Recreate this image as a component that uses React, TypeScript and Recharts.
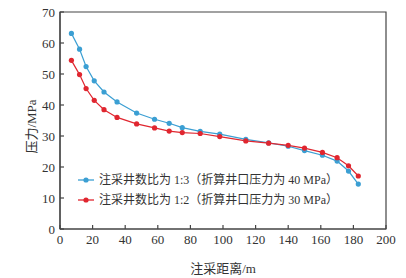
import React from 'react';
import { LineChart, Line, XAxis, YAxis, ReferenceArea } from 'recharts';

const distance = [7, 12, 16, 21, 27, 35, 47, 58, 67, 75, 86, 98, 114, 128, 140, 150, 161, 170, 177, 183];
const ratio13 = [63.1, 58.0, 52.4, 47.8, 44.2, 41.0, 37.4, 35.4, 34.1, 32.7, 31.5, 30.6, 28.9, 27.8, 26.7, 25.3, 23.8, 21.9, 18.7, 14.5];
const ratio12 = [54.4, 49.8, 45.3, 41.5, 38.5, 36.0, 33.9, 32.6, 31.6, 31.1, 30.8, 29.8, 28.4, 27.7, 27.0, 26.1, 24.7, 23.0, 20.4, 17.1];
const seriesNames = ['注采井数比为 1:3（折算井口压力为 40 MPa）', '注采井数比为 1:2（折算井口压力为 30 MPa）'];
const xTicks = [0, 20, 40, 60, 80, 100, 120, 140, 160, 180, 200];
const yTicks = [0, 10, 20, 30, 40, 50, 60, 70];
const xTitle = '注采距离/m';
const yTitle = '压力/MPa';

const BLUE = '#3b9fd3';
const RED = '#e0262f';
const AXIS = '#444';
const FONT = "'Liberation Serif', 'Noto Sans CJK SC', serif";

const data = distance.map((d, i) => ({ d, a: ratio13[i], b: ratio12[i] }));

const LegendBox = () => (
  <div style={{ position: 'absolute', left: 78, top: 170, fontFamily: FONT, fontSize: 12, color: '#333', lineHeight: '20px' }}>
    {[BLUE, RED].map((c, i) => (
      <div key={i} style={{ display: 'flex', alignItems: 'center', whiteSpace: 'nowrap' }}>
        <svg width={18} height={8} style={{ marginRight: 3 }}>
          <line x1={0} y1={4} x2={16} y2={4} stroke={c} strokeWidth={1.3} />
          <circle cx={8} cy={4} r={2.6} fill={c} />
        </svg>
        <span>{seriesNames[i]}</span>
      </div>
    ))}
  </div>
);

const YTitle = (props: any) => {
  const vb = props.viewBox || {};
  const cx = 31;
  const cy = (vb.y || 0) + (vb.height || 0) / 2 + 6;
  return (
    <text x={cx} y={cy} transform={`rotate(-90 ${cx} ${cy})`} textAnchor="middle" dominantBaseline="central"
      fontFamily={FONT} fontSize={13} fill="#333">{yTitle}</text>
  );
};

export default function App() {
  return (
    <div style={{ position: 'absolute', left: 0, top: 0, width: 406, height: 278, background: '#fff' }}>
      <LineChart width={406} height={278} data={data} margin={{ top: 12, right: 20, bottom: 0, left: 0 }}>
        <XAxis dataKey="d" type="number" domain={[0, 200]} ticks={xTicks} height={49} interval={0}
          tickSize={-4} tickMargin={10} stroke={AXIS} strokeWidth={1.2}
          tick={{ fontFamily: FONT, fontSize: 13, fill: '#333' }}
          label={{ value: xTitle, position: 'insideBottom', offset: 5, fontFamily: FONT, fontSize: 13, fill: '#333' }} />
        <YAxis type="number" domain={[0, 70]} ticks={yTicks} width={60} interval={0}
          tickSize={-4} tickMargin={9} stroke={AXIS} strokeWidth={1.2}
          tick={{ fontFamily: FONT, fontSize: 13, fill: '#333' }}
          label={<YTitle />} />
        <ReferenceArea x1={0} x2={200} y1={0} y2={70} fill="none" stroke={AXIS} strokeWidth={1.2} ifOverflow="visible" />
        <Line dataKey="a" stroke={BLUE} strokeWidth={1.2} dot={{ r: 2.6, fill: BLUE, stroke: BLUE, strokeWidth: 0 }} isAnimationActive={false} />
        <Line dataKey="b" stroke={RED} strokeWidth={1.2} dot={{ r: 2.6, fill: RED, stroke: RED, strokeWidth: 0 }} isAnimationActive={false} />
      </LineChart>
      <LegendBox />
    </div>
  );
}
